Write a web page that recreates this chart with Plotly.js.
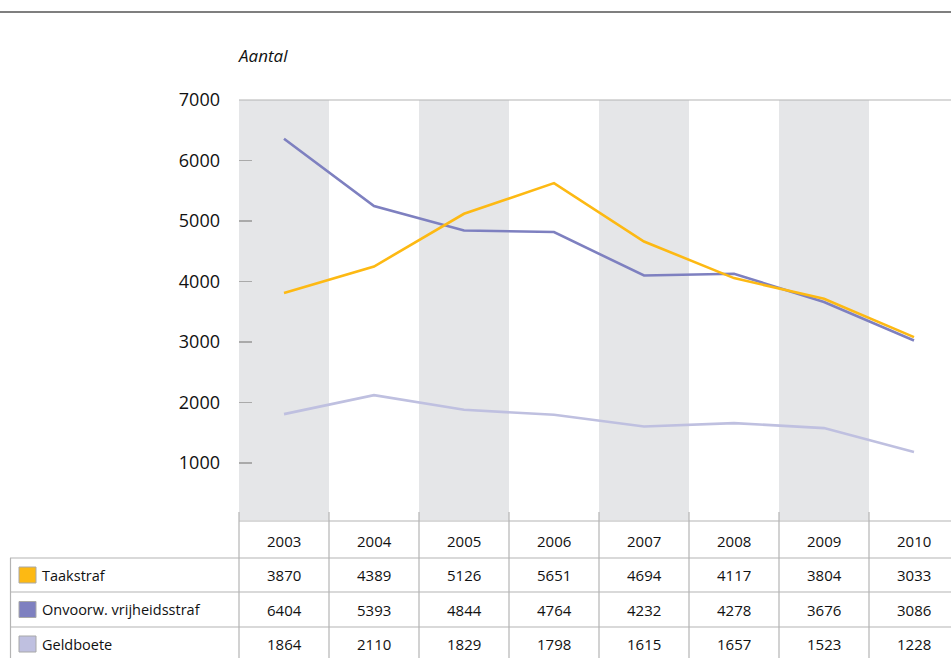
<!DOCTYPE html>
<html>
<head>
<meta charset="utf-8">
<script src="https://cdn.plot.ly/plotly-3.0.1.min.js"></script>
<style>html,body{margin:0;padding:0;background:#fff;}#chart{width:951px;height:658px;}</style>
</head>
<body>
<div id="chart"></div>
<script>
const years = [2003, 2004, 2005, 2006, 2007, 2008, 2009, 2010];
const seriesNames = ['Taakstraf', 'Onvoorw. vrijheidsstraf', 'Geldboete'];
// values printed in the table
const taakstraf = [3870, 4389, 5126, 5651, 4694, 4117, 3804, 3033];
const onvoorw = [6404, 5393, 4844, 4764, 4232, 4278, 3676, 3086];
const geldboete = [1864, 2110, 1829, 1798, 1615, 1657, 1523, 1228];
// values as drawn by the lines
const taakstrafLine = [3808, 4248, 5119, 5626, 4661, 4056, 3714, 3081];
const onvoorwLine = [6359, 5246, 4843, 4817, 4099, 4127, 3660, 3025];
const geldboeteLine = [1808, 2122, 1879, 1797, 1603, 1659, 1577, 1180];
const yTicks = [1000, 2000, 3000, 4000, 5000, 6000, 7000];
const colors = ['#FDB913', '#7E80C0', '#BFC0E0'];
const tableValues = [taakstraf, onvoorw, geldboete];
const lineValues = [taakstrafLine, onvoorwLine, geldboeteLine];

const W = 951, H = 658;
const L = 239, T = 100, B = 520, R = 951;
const colW = 90;
const xMin = years[0] - 0.5;
const xMax = xMin + (R - L) / colW;
const py = p => (B - p) / (B - T);
const px = p => (p - L) / (R - L);
const FONT = 'Open Sans, Noto Sans, sans-serif';
const lineCol = '#b4b4b4';
const txtCol = '#111';

// traces: draw Taakstraf last so it is on top
const order = [2, 1, 0];
const traces = order.map(i => ({
  type: 'scatter', mode: 'lines', x: years, y: lineValues[i], name: seriesNames[i],
  line: {color: colors[i], width: 2.6}, hoverinfo: 'x+y+name'
}));

const shapes = [];
const annotations = [];

// alternating grey bands
years.forEach((yr, i) => {
  if (i % 2 === 0) {
    shapes.push({type: 'rect', xref: 'x', yref: 'paper', x0: yr - 0.5, x1: yr + 0.5, y0: 0, y1: 1,
      fillcolor: '#E5E6E8', line: {width: 0}, layer: 'below'});
  }
});
// top plot line at 7000
shapes.push({type: 'line', xref: 'paper', yref: 'paper', x0: 0, x1: 1, y0: 1, y1: 1, line: {color: lineCol, width: 1.2}});
// top rule of page
shapes.push({type: 'line', xref: 'paper', yref: 'paper', x0: px(0), x1: px(W), y0: py(12), y1: py(12), line: {color: '#555', width: 1.5}});

// table grid
const rowLines = [558, 592, 627];
shapes.push({type: 'line', xref: 'paper', yref: 'paper', x0: 0, x1: 1, y0: py(521), y1: py(521), line: {color: lineCol, width: 1.2}});
rowLines.forEach(r => shapes.push({type: 'line', xref: 'paper', yref: 'paper', x0: px(10), x1: 1, y0: py(r), y1: py(r), line: {color: lineCol, width: 1.2}}));
years.forEach((yr, i) => {
  const xp = px(L + i * colW);
  shapes.push({type: 'line', xref: 'paper', yref: 'paper', x0: xp, x1: xp, y0: py(512), y1: py(H + 5), line: {color: lineCol, width: 1.2}});
});
shapes.push({type: 'line', xref: 'paper', yref: 'paper', x0: px(10.5), x1: px(10.5), y0: py(558), y1: py(H + 5), line: {color: lineCol, width: 1.2}});

// header years
years.forEach(yr => annotations.push({xref: 'x', yref: 'paper', x: yr, y: py(541), text: String(yr), showarrow: false,
  xanchor: 'center', yanchor: 'middle', font: {family: FONT, size: 15, color: txtCol}}));
const rowCenters = [575, 609.5, 644];
seriesNames.forEach((nm, r) => {
  const yc = rowCenters[r];
  shapes.push({type: 'rect', xref: 'paper', yref: 'paper', x0: px(19), x1: px(36), y0: py(yc + 8), y1: py(yc - 8),
    fillcolor: colors[r], line: {color: '#a8a8a8', width: 1}});
  annotations.push({xref: 'paper', yref: 'paper', x: px(40), y: py(yc), text: nm, showarrow: false,
    xanchor: 'left', yanchor: 'middle', font: {family: FONT, size: 14.5, color: txtCol}});
  tableValues[r].forEach((v, i) => annotations.push({xref: 'x', yref: 'paper', x: years[i], y: py(yc), text: String(v),
    showarrow: false, xanchor: 'center', yanchor: 'middle', font: {family: FONT, size: 15, color: txtCol}}));
});

// Aantal
annotations.push({xref: 'paper', yref: 'paper', x: px(236), y: py(56), text: '<i>Aantal</i>', showarrow: false,
  xanchor: 'left', yanchor: 'middle', font: {family: FONT, size: 17, color: txtCol}});

const layout = {
  width: W, height: H,
  margin: {l: L, r: W - R, t: T, b: H - B, pad: 0},
  paper_bgcolor: '#fff', plot_bgcolor: 'rgba(0,0,0,0)',
  showlegend: false,
  font: {family: FONT},
  xaxis: {range: [xMin, xMax], showgrid: false, zeroline: false, showline: false, showticklabels: false, ticks: '', fixedrange: true},
  yaxis: {range: [7000 - (B - T) / 0.0605, 7000], tickvals: yTicks, ticktext: yTicks.map(String), showgrid: false, zeroline: false,
    showline: false, ticks: 'inside', ticklen: 13, tickwidth: 1.2, tickcolor: '#aaa', ticklabelstandoff: 18,
    tickfont: {family: FONT, size: 18, color: txtCol}, fixedrange: true},
  shapes: shapes,
  annotations: annotations
};

Plotly.newPlot('chart', traces, layout, {displayModeBar: false, staticPlot: true});
</script>
</body>
</html>
